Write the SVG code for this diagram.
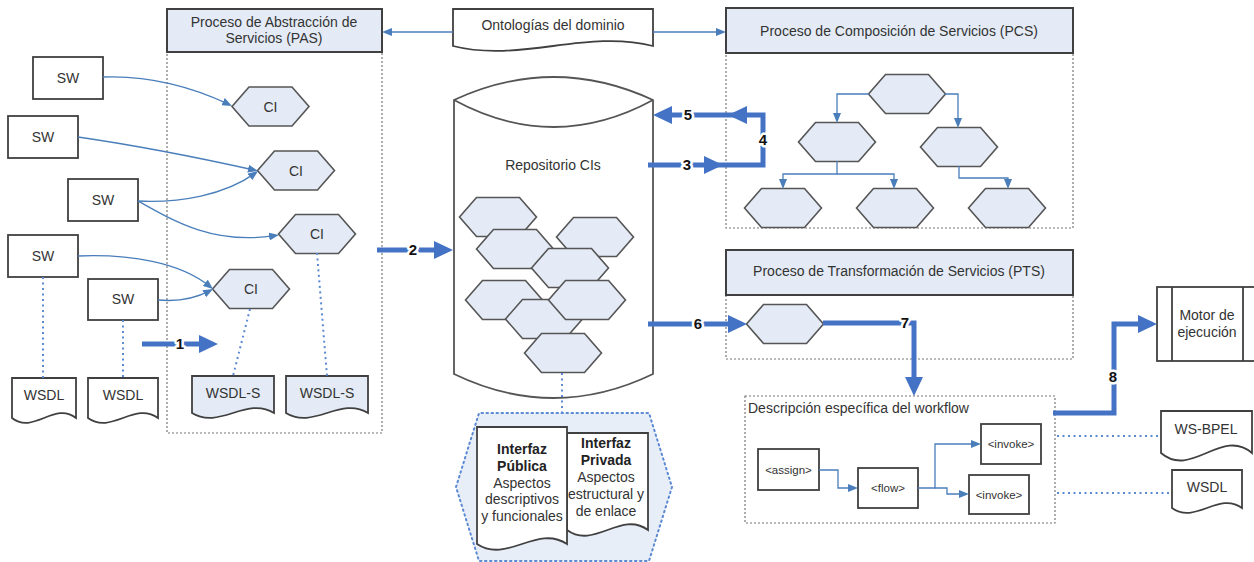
<svg xmlns="http://www.w3.org/2000/svg" xmlns:xlink="http://www.w3.org/1999/xlink" width="1254" height="562" viewBox="0 0 1254 562">
<style>
.t{font-family:"Liberation Sans",Arial,sans-serif;font-size:14px;fill:#333;text-anchor:middle}
.s{font-size:11.5px}
.l{text-anchor:start}
.b{font-weight:bold;fill:#222}
.n{font-family:"Liberation Sans",Arial,sans-serif;font-weight:bold;font-size:15px;fill:#111;text-anchor:middle;stroke:#fff;stroke-width:5;paint-order:stroke;stroke-linejoin:round}
.box{fill:#fff;stroke:#404040;stroke-width:1.8}
.hdr{fill:#E4EBF6;stroke:#404040;stroke-width:2}
.cont{fill:none;stroke:#777;stroke-width:1.2;stroke-dasharray:2 2}
.hx{fill:#E4EBF6;stroke:#555;stroke-width:1.6}
.doc{fill:#fff;stroke:#404040;stroke-width:1.8}
.docb{fill:#E4EBF6;stroke:#404040;stroke-width:1.8}
.thin{fill:none;stroke:#4A7EBB;stroke-width:1.3}
.thick{fill:none;stroke:#4472C4;stroke-width:5}
.dot{fill:none;stroke:#5B8AD3;stroke-width:2;stroke-dasharray:2 3.5}
</style>
<defs>
<polygon id="hex" points="-38.5,0 -21.5,-19.5 21.5,-19.5 38.5,0 21.5,19.5 -21.5,19.5"/>
<marker id="ah" viewBox="0 0 10 8" refX="6" refY="4" markerWidth="10" markerHeight="8" markerUnits="userSpaceOnUse" orient="auto">
<path d="M0,0 L10,4 L0,8 Z" fill="#4A7EBB"/>
</marker>
<marker id="AH" viewBox="0 0 19 18" refX="9" refY="9" markerWidth="19" markerHeight="18" markerUnits="userSpaceOnUse" orient="auto">
<path d="M0,0 L19,9 L0,18 Z" fill="#4472C4"/>
</marker>
</defs>
<rect width="1254" height="562" fill="#fff"/>

<g id="pas">
<rect class="cont" x="167" y="52" width="215" height="381"/>
<rect class="hdr" x="167" y="9" width="215" height="43"/>
<text class="t" x="274" y="27">Proceso de Abstracción de</text>
<text class="t" x="274" y="43">Servicios (PAS)</text>
</g>
<g id="pcs">
<rect class="cont" x="726" y="53" width="347" height="175"/>
<rect class="hdr" x="726" y="8" width="347" height="45"/>
<text class="t" x="899" y="36">Proceso de Composición de Servicios (PCS)</text>
</g>
<g id="pts">
<rect class="cont" x="726" y="295" width="347" height="64"/>
<rect class="hdr" x="726" y="250" width="347" height="45"/>
<text class="t" x="899" y="276">Proceso de Transformación de Servicios (PTS)</text>
</g>
<g id="workflow">
<rect class="cont" x="745" y="396" width="310" height="127"/>
<text class="t l" x="748" y="413">Descripción específica del workflow</text>
</g>

<g id="ontologias">
<path class="doc" d="M453,9 H653 V46 C586.3,29 519.7,63 453,46 Z"/>
<text class="t" x="553" y="30">Ontologías del dominio</text>
</g>

<g id="sw1"><rect class="box" x="33" y="57" width="70" height="42"/><text class="t" x="68" y="83">SW</text></g>
<g id="sw2"><rect class="box" x="8" y="116" width="70" height="42"/><text class="t" x="43" y="142">SW</text></g>
<g id="sw3"><rect class="box" x="68" y="179" width="70" height="42"/><text class="t" x="103" y="205">SW</text></g>
<g id="sw4"><rect class="box" x="8" y="235" width="70" height="42"/><text class="t" x="43" y="261">SW</text></g>
<g id="sw5"><rect class="box" x="88" y="279" width="70" height="41"/><text class="t" x="123" y="304">SW</text></g>

<g id="ci1"><use href="#hex" class="hx" x="270.5" y="106.5"/><text class="t" x="270.5" y="111.5">CI</text></g>
<g id="ci2"><use href="#hex" class="hx" x="296" y="170.5"/><text class="t" x="296" y="175.5">CI</text></g>
<g id="ci3"><use href="#hex" class="hx" x="317" y="234"/><text class="t" x="317" y="239">CI</text></g>
<g id="ci4"><use href="#hex" class="hx" x="251" y="289"/><text class="t" x="251" y="294">CI</text></g>

<g id="wsdl1"><path class="doc" d="M12,378 H76 V418 C54.7,401 33.3,435 12,418 Z"/><text class="t" x="44" y="400">WSDL</text></g>
<g id="wsdl2"><path class="doc" d="M88,378 H158 V418 C134.7,401 111.3,435 88,418 Z"/><text class="t" x="123" y="400">WSDL</text></g>
<g id="wsdls1"><path class="docb" d="M192,376 H274 V413 C246.7,396 219.3,430 192,413 Z"/><text class="t" x="233" y="398">WSDL-S</text></g>
<g id="wsdls2"><path class="docb" d="M286,376 H368 V413 C340.7,396 313.3,430 286,413 Z"/><text class="t" x="327" y="398">WSDL-S</text></g>

<g id="repositorio">
<path d="M454,100 Q553.5,54 653,100 V374 Q553.5,422 454,374 Z" fill="#fff" stroke="#555" stroke-width="1.8"/>
<path d="M454,100 Q553.5,154 653,100" fill="none" stroke="#555" stroke-width="1.8"/>
<text class="t" x="553" y="170">Repositorio CIs</text>
<use href="#hex" class="hx" x="498" y="217"/>
<use href="#hex" class="hx" x="595" y="237"/>
<use href="#hex" class="hx" x="515" y="249"/>
<use href="#hex" class="hx" x="570" y="268"/>
<use href="#hex" class="hx" x="504" y="300"/>
<use href="#hex" class="hx" x="544" y="319"/>
<use href="#hex" class="hx" x="587" y="300"/>
<use href="#hex" class="hx" x="563" y="353"/>
</g>

<g id="interfaces">
<polygon points="456,487 479,413 649,413 672,487 649,561 479,561" fill="#E8EEF8" stroke="#5B8AD3" stroke-width="2" stroke-dasharray="1.5 3.5" stroke-linecap="round"/>
<path class="doc" d="M567,433 H648 V530 C621,510 594,550 567,530 Z"/>
<path class="doc" d="M477,427 H567 V544 C537,524 507,564 477,544 Z"/>
<text class="t b" x="522" y="454">Interfaz</text>
<text class="t b" x="522" y="471">Pública</text>
<text class="t" x="522" y="487.5">Aspectos</text>
<text class="t" x="522" y="504">descriptivos</text>
<text class="t" x="522" y="521">y funcionales</text>
<text class="t b" x="606" y="448">Interfaz</text>
<text class="t b" x="606" y="465">Privada</text>
<text class="t" x="606" y="482">Aspectos</text>
<text class="t" x="606" y="499">estructural y</text>
<text class="t" x="606" y="516">de enlace</text>
</g>

<g id="pcs-tree">
<use href="#hex" class="hx" x="907" y="94"/>
<use href="#hex" class="hx" x="837" y="142"/>
<use href="#hex" class="hx" x="959" y="147"/>
<use href="#hex" class="hx" x="783" y="208"/>
<use href="#hex" class="hx" x="895" y="208"/>
<use href="#hex" class="hx" x="1007" y="208"/>
</g>
<g id="pts-ci"><use href="#hex" class="hx" x="785" y="324"/></g>

<g id="wf-assign"><rect class="box" x="758" y="449" width="61" height="41"/><text class="t s" x="788.5" y="473.5">&lt;assign&gt;</text></g>
<g id="wf-flow"><rect class="box" x="858" y="468" width="60" height="40"/><text class="t s" x="888" y="492">&lt;flow&gt;</text></g>
<g id="wf-invoke1"><rect class="box" x="981" y="424" width="60" height="40"/><text class="t s" x="1011" y="448">&lt;invoke&gt;</text></g>
<g id="wf-invoke2"><rect class="box" x="969" y="475" width="60" height="39"/><text class="t s" x="999" y="498.5">&lt;invoke&gt;</text></g>

<g id="motor">
<rect class="box" x="1157" y="287" width="100" height="74"/>
<line x1="1172" y1="287" x2="1172" y2="361" stroke="#404040" stroke-width="1.8"/>
<line x1="1243" y1="287" x2="1243" y2="361" stroke="#404040" stroke-width="1.8"/>
<text class="t" x="1207" y="320">Motor de</text>
<text class="t" x="1207" y="337">ejecución</text>
</g>
<g id="wsbpel"><path class="doc" d="M1161,411 H1252 V453 C1221.7,427 1191.3,479 1161,453 Z"/><text class="t" x="1206" y="434">WS-BPEL</text></g>
<g id="wsdl3"><path class="doc" d="M1172,470 H1242 V508 C1218.7,491 1195.3,525 1172,508 Z"/><text class="t" x="1207" y="492">WSDL</text></g>

<g id="connectors">
<path class="thin" marker-end="url(#ah)" d="M453,32 H386"/>
<path class="thin" marker-end="url(#ah)" d="M653,32 H722"/>
<path class="thin" marker-end="url(#ah)" d="M103,77 C150,75 195,88 228.4,104.2"/>
<path class="thin" marker-end="url(#ah)" d="M78,137 C140,146 200,158 254,170"/>
<path class="thin" marker-end="url(#ah)" d="M138,201 C180,203 225,195 254.8,173.4"/>
<path class="thin" marker-end="url(#ah)" d="M138,201 C175,222 215,245 275,235.6"/>
<path class="thin" marker-end="url(#ah)" d="M78,256 C130,254 180,262 209.9,286.5"/>
<path class="thin" marker-end="url(#ah)" d="M158,300 C180,302 198,297 209.5,290.9"/>
<path class="thin" marker-end="url(#ah)" d="M869,94 H837 V119"/>
<path class="thin" marker-end="url(#ah)" d="M945,94 H958 V124"/>
<path class="thin" marker-end="url(#ah)" d="M837,161 V174 H783 V185"/>
<path class="thin" marker-end="url(#ah)" d="M837,174 H894 V185"/>
<path class="thin" marker-end="url(#ah)" d="M959,166 V178 H1008 V185"/>
<path class="thin" marker-end="url(#ah)" d="M819,470 H838 V488 H854"/>
<path class="thin" marker-end="url(#ah)" d="M918,488 H935 V444 H977"/>
<path class="thin" marker-end="url(#ah)" d="M935,488 H947 V494 H965"/>
<path class="dot" d="M43,277 V378"/>
<path class="dot" d="M123,320 V378"/>
<path class="dot" d="M250,309 L233,376"/>
<path class="dot" d="M317,253 L327,376"/>
<path class="dot" d="M562,373 V413"/>
<path class="dot" d="M1057,436 H1161"/>
<path class="dot" d="M1057,493 H1172"/>
<path class="thick" marker-end="url(#AH)" d="M142,344 H208"/>
<path class="thick" marker-end="url(#AH)" d="M377,250 H443"/>
<path class="thick" marker-end="url(#AH)" d="M648,165 H713"/>
<path class="thick" marker-end="url(#AH)" d="M715,165 H763 V115 H738"/>
<path class="thick" marker-end="url(#AH)" d="M740,115 H663"/>
<path class="thick" marker-end="url(#AH)" d="M648,324 H737"/>
<path class="thick" marker-end="url(#AH)" d="M823,323 H914 V386"/>
<path class="thick" marker-end="url(#AH)" d="M1053,413 H1114 V324 H1147"/>
<text class="n" x="180" y="349">1</text>
<text class="n" x="413" y="255">2</text>
<text class="n" x="687" y="170">3</text>
<text class="n" x="763" y="145">4</text>
<text class="n" x="688" y="120">5</text>
<text class="n" x="698" y="329">6</text>
<text class="n" x="905" y="328">7</text>
<text class="n" x="1113" y="382">8</text>
</g>
</svg>
